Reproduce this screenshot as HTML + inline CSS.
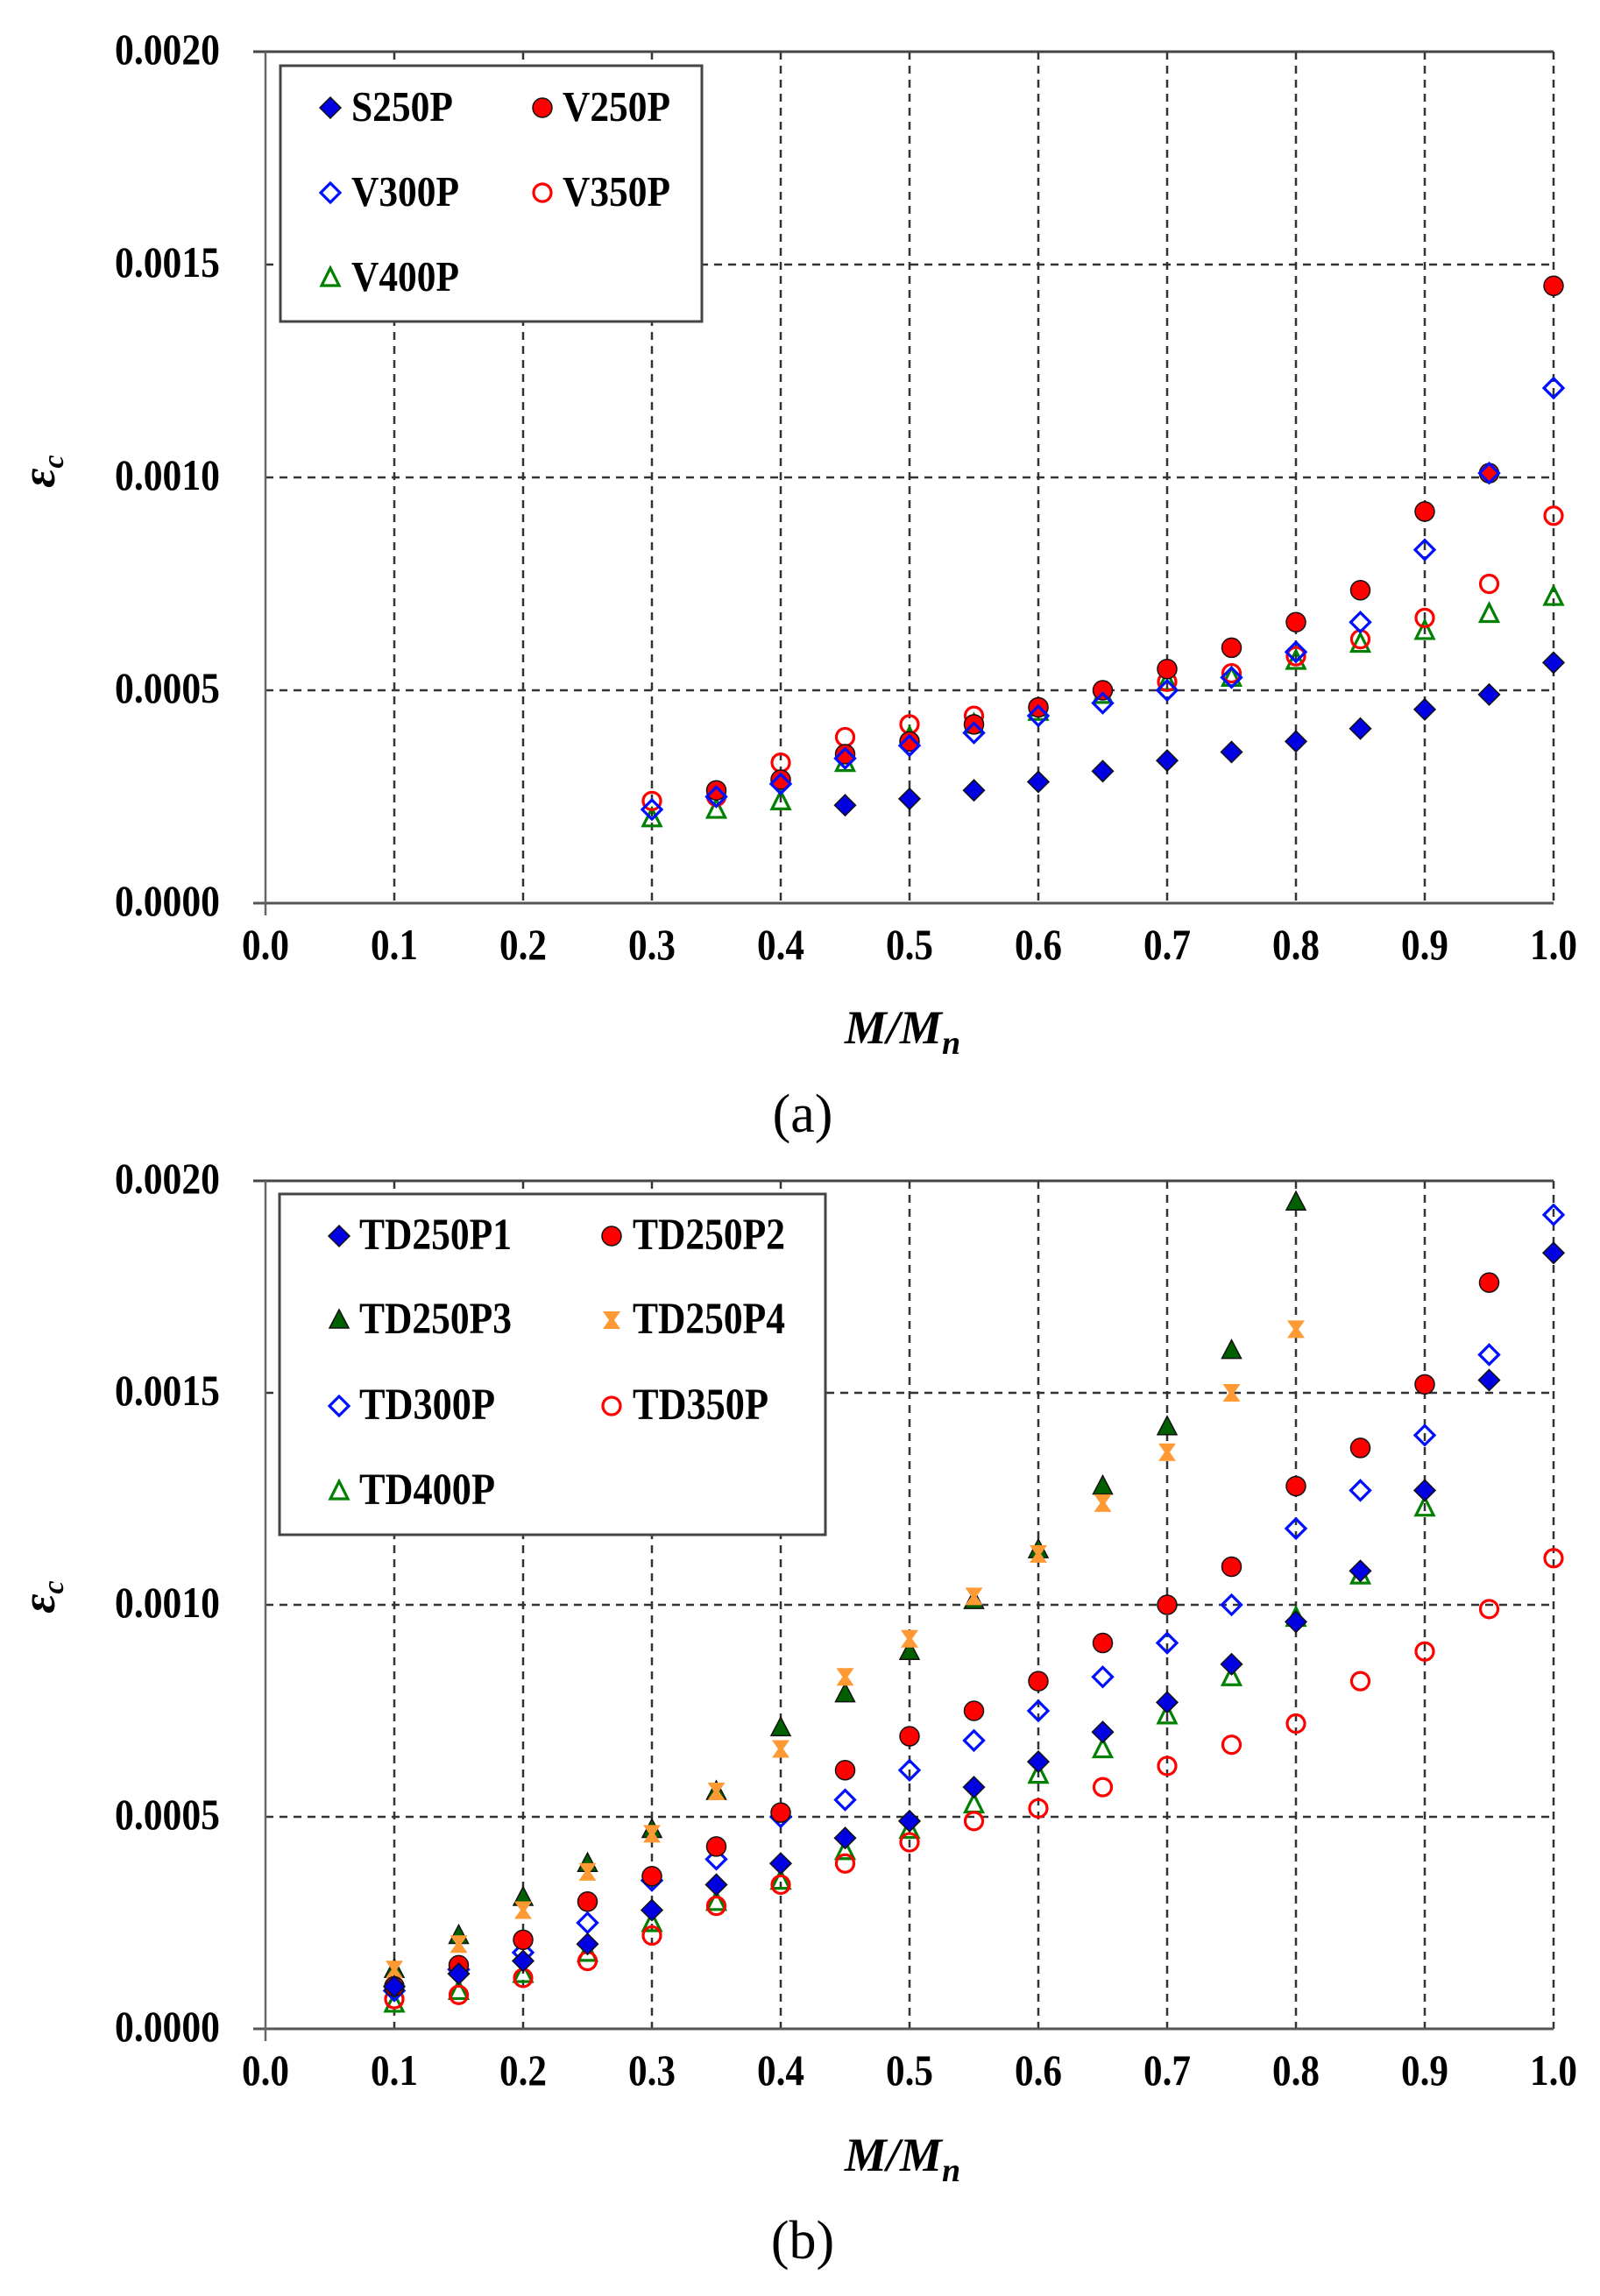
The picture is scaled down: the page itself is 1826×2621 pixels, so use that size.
<!DOCTYPE html>
<html><head><meta charset="utf-8"><style>
html,body{margin:0;padding:0;background:#fff;}
svg{display:block;}
</style></head><body>
<svg id="s" width="1826" height="2621" xmlns="http://www.w3.org/2000/svg" font-family="'Liberation Serif', serif"></svg>
<script>
const S=document.getElementById('s');let h='';
const X0=303,DX=147;
const F=`font-family="Liberation Serif, serif"`;
function sy(y,k){return `transform="translate(0,${y}) scale(1,${k}) translate(0,${-y})"`;}
function panel(top,bot,legend,series,labY){
  const Y=v=>bot-(v/0.002)*(bot-top);
  const X=x=>X0+x*10*DX;
  for(let i=1;i<=10;i++){h+=`<line x1="${X(i/10)}" y1="${top}" x2="${X(i/10)}" y2="${bot}" stroke="#333" stroke-width="2.5" stroke-dasharray="9,7"/>`;}
  for(let j=1;j<=3;j++){const y=Y(j*0.0005);h+=`<line x1="${X0}" y1="${y}" x2="${X(1)}" y2="${y}" stroke="#333" stroke-width="2.5" stroke-dasharray="9,7"/>`;}
  h+=`<line x1="${X0-14}" y1="${top}" x2="${X(1)}" y2="${top}" stroke="#444" stroke-width="3"/>`;
  h+=`<line x1="${X0-14}" y1="${bot}" x2="${X(1)}" y2="${bot}" stroke="#555" stroke-width="3"/>`;
  h+=`<line x1="${X0}" y1="${top}" x2="${X0}" y2="${bot+14}" stroke="#666" stroke-width="2.5"/>`;
  for(let j=0;j<=4;j++){const y=Y(j*0.0005)+14;h+=`<text ${F} x="131" y="${y}" font-size="44" font-weight="bold" textLength="120" lengthAdjust="spacingAndGlyphs" ${sy(y,1.12)}>${(j*0.0005).toFixed(4)}</text>`;}
  for(let i=0;i<=10;i++){const x=X(i/10),y=bot+64;h+=`<text ${F} x="${x-27}" y="${y}" font-size="44" font-weight="bold" textLength="54" lengthAdjust="spacingAndGlyphs" ${sy(y,1.12)}>${(i/10).toFixed(1)}</text>`;}
  h+=`<text ${F} x="62" y="${labY}" font-size="54" font-weight="bold" font-style="italic" transform="rotate(-90 62 ${labY})" text-anchor="middle">ε<tspan font-size="34" dy="10">c</tspan></text>`;
  const L=legend;
  h+=`<rect x="${L.x}" y="${L.y}" width="${L.w}" height="${L.h}" fill="#fff" stroke="#444" stroke-width="3"/>`;
  L.items.forEach((it,k)=>{const col=k%2,row=Math.floor(k/2);const mx=L.mx[col],ty=L.ry[row];
    h+=mk(it.m,mx,ty);const yy=ty+15;h+=`<text ${F} x="${L.tx[col]}" y="${yy}" font-size="${L.fs}" font-weight="bold" textLength="${it.w}" lengthAdjust="spacingAndGlyphs" ${sy(yy,1.1)}>${it.n}</text>`;});
  series.forEach(s=>{s.d.forEach(p=>{h+=mk(s.m,X(p[0]),Y(p[1]));});});
}
function mk(m,x,y){
  switch(m){
  case 'fd': return `<polygon points="${x},${y-12} ${x+12},${y} ${x},${y+12} ${x-12},${y}" fill="#0000e0" stroke="#111" stroke-width="1.5"/>`;
  case 'od': return `<polygon points="${x},${y-11} ${x+11},${y} ${x},${y+11} ${x-11},${y}" fill="none" stroke="#0010ff" stroke-width="3.2"/>`;
  case 'fc': return `<circle cx="${x}" cy="${y}" r="11" fill="#f00" stroke="#111" stroke-width="1.5"/>`;
  case 'oc': return `<circle cx="${x}" cy="${y}" r="10" fill="none" stroke="#f00" stroke-width="3.2"/>`;
  case 'ft': return `<polygon points="${x},${y-12} ${x+11},${y+9} ${x-11},${y+9}" fill="#006000" stroke="#111" stroke-width="1.5"/>`;
  case 'ot': return `<polygon points="${x},${y-11} ${x+10},${y+9} ${x-10},${y+9}" fill="none" stroke="#008000" stroke-width="3.2"/>`;
  case 'x': return `<polygon points="${x-10},${y-10} ${x+10},${y-10} ${x+3},${y} ${x+10},${y+10} ${x-10},${y+10} ${x-3},${y}" fill="#ff9933"/>`;
  }
}
const xs=(a,b)=>{const r=[];for(let i=0;i<b.length;i++)r.push([Math.round((a+i*0.05)*100)/100,b[i]/1e5]);return r;};
panel(59,1031,{x:320,y:75,w:481,h:292,mx:[377,619],tx:[401,642],ry:[123,220,317],fs:44,
 items:[{m:'fd',n:'S250P',w:116},{m:'fc',n:'V250P',w:123},{m:'od',n:'V300P',w:123},{m:'oc',n:'V350P',w:123},{m:'ot',n:'V400P',w:123}]},
 [
 {m:'ot',d:xs(0.3,[20,22,24,33,39,42,45,49,52,53,57,61,64,68,72])},
 {m:'oc',d:xs(0.3,[24,25,33,39,42,44,46,50,52,54,58,62,67,75,91])},
 {m:'fc',d:xs(0.35,[26.5,29,35,38,42,46,50,55,60,66,73.5,92,101,145])},
 {m:'od',d:xs(0.3,[22,25,28,34,37,40,44,47,50,53,59,66,83,101,121])},
 {m:'fd',d:xs(0.45,[23,24.5,26.5,28.5,31,33.5,35.5,38,41,45.5,49,56.5])}
 ],538);
panel(1348,2316,{x:319,y:1363,w:623,h:389,mx:[387,698],tx:[410,722],ry:[1411,1507,1605,1702],fs:46,
 items:[{m:'fd',n:'TD250P1',w:174},{m:'fc',n:'TD250P2',w:174},{m:'ft',n:'TD250P3',w:174},{m:'x',n:'TD250P4',w:174},{m:'od',n:'TD300P',w:155},{m:'oc',n:'TD350P',w:155},{m:'ot',n:'TD400P',w:155}]},
 [
 {m:'ot',d:xs(0.1,[6,9,13,18,25,30,35,42,47,53,60,66,74,83,97,107,123])},
 {m:'oc',d:xs(0.1,[7,8,12,16,22,29,34,39,44,49,52,57,62,67,72,82,89,99,111])},
 {m:'od',d:xs(0.1,[9,14,18,25,35,40,50,54,61,68,75,83,91,100,118,127,140,159,192])},
 {m:'ft',d:xs(0.1,[14,22,31,39,47,56,71,79,89,101,113,128,142,160,195])},
 {m:'x',d:xs(0.1,[14,20,28,37,46,56,66,83,92,102,112,124,136,150,165])},
 {m:'fc',d:xs(0.1,[10,15,21,30,36,43,51,61,69,75,82,91,100,109,128,137,152,176])},
 {m:'fd',d:xs(0.1,[10,13,16,20,28,34,39,45,49,57,63,70,77,86,96,108,127,153,183])}
 ],1823);
h+=`<text ${F} x="1030" y="1191" font-size="54" font-weight="bold" font-style="italic" text-anchor="middle">M/M<tspan font-size="38" dy="12">n</tspan></text>`;
h+=`<text ${F} x="916" y="1292" font-size="62" text-anchor="middle">(a)</text>`;
h+=`<text ${F} x="1030" y="2478" font-size="54" font-weight="bold" font-style="italic" text-anchor="middle">M/M<tspan font-size="38" dy="12">n</tspan></text>`;
h+=`<text ${F} x="916" y="2578" font-size="62" text-anchor="middle">(b)</text>`;
S.innerHTML=h;
</script>
</body></html>
